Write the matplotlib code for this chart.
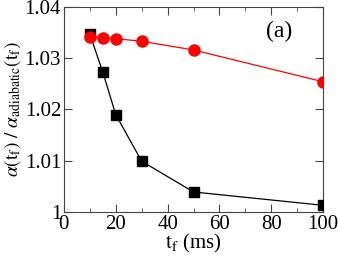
import numpy as np
import matplotlib
matplotlib.use('Agg')
import matplotlib.pyplot as plt
from matplotlib.ticker import MultipleLocator

# dados
tf_preto = [10, 15, 20, 30, 50, 100]
razao_preto = [1.0347, 1.0273, 1.0190, 1.0099, 1.0039, 1.0013]
tf_vermelho = [10, 15, 20, 30, 50, 100]
razao_vermelho = [1.0341, 1.0340, 1.0338, 1.0333, 1.0316, 1.0254]

plt.rcParams['font.family'] = 'Liberation Serif'
plt.rcParams['mathtext.fontset'] = 'stix'

fig = plt.figure(figsize=(3.38, 2.56), dpi=100)
ax = fig.add_axes([0.189, 0.172, 0.767, 0.801])

ax.plot(tf_preto, razao_preto, '-s', color='black', lw=0.9, ms=6.5, zorder=3)
ax.plot(tf_vermelho, razao_vermelho, '-o', color='red', lw=0.9, ms=8, zorder=4)

ax.set_xlim(0, 100)
ax.set_ylim(1.0, 1.04)
ax.set_xticks([0, 20, 40, 60, 80, 100])
ax.xaxis.set_minor_locator(MultipleLocator(10))
ax.set_yticks([1.0, 1.01, 1.02, 1.03, 1.04])
ax.set_yticklabels(['1', '1.01', '1.02', '1.03', '1.04'])
ax.tick_params(which='both', direction='in', top=True, right=True, labelsize=15, color='#444444', pad=2)
ax.tick_params(which='major', length=6)
ax.tick_params(which='minor', length=3)
for s in ax.spines.values():
    s.set_color('#444444')

ax.set_xlabel(r'$\mathrm{t_f}$ (ms)', fontsize=15, labelpad=-1)
ax.set_ylabel(r'$\alpha(\mathrm{t_f})\ /\ \alpha_{\mathrm{adiabatic}}(\mathrm{t_f})$', fontsize=14, labelpad=1)
ax.text(83, 1.0352, '(a)', fontsize=17, ha='center', va='center')

fig.savefig('out.png', dpi=100)
